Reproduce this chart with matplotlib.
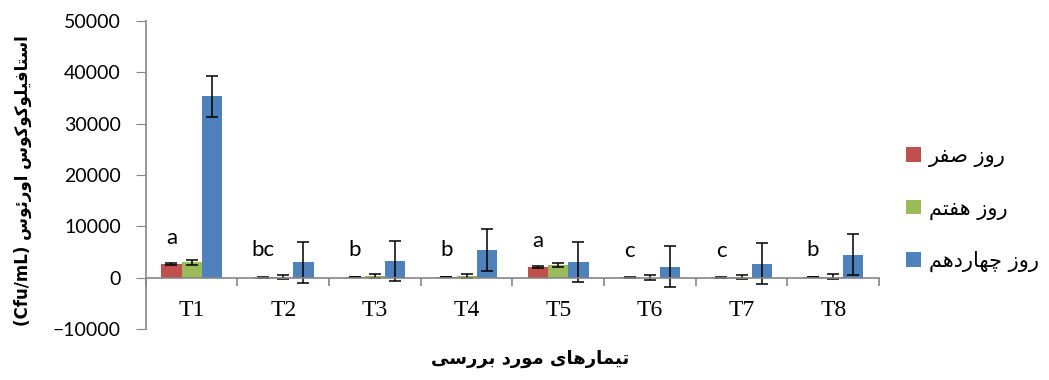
import matplotlib
matplotlib.use('Agg')
import matplotlib.pyplot as plt
import numpy as np

# treatment groups and mean counts (Cfu/mL)
treatments = ['T1', 'T2', 'T3', 'T4', 'T5', 'T6', 'T7', 'T8']
day0 = [2700, 50, 100, 100, 2000, 50, 50, 100]
day7 = [3000, 150, 300, 300, 2500, 0, 100, 200]
day14 = [35300, 3000, 3200, 5400, 3000, 2100, 2700, 4500]
day0_err = [200, 50, 50, 50, 200, 50, 50, 50]
day7_err = [500, 450, 400, 400, 450, 500, 400, 500]
day14_err = [4000, 4000, 3900, 4000, 3900, 4000, 4000, 4000]
letters = ['a', 'bc', 'b', 'b', 'a', 'c', 'c', 'b']
letter_y = [7800, 5300, 5300, 5400, 7100, 5200, 5200, 5300]

series_names = ['روز صفر', 'روز هفتم', 'روز چهاردهم']
x_title = 'تیمارهای مورد بررسی'
y_title = 'استافیلوکوکوس اورئوس'

# Arabic presentation forms: isolated, final, initial, medial
FORMS = {
    'ا': ('\uFE8D', '\uFE8E', None, None),
    'د': ('\uFEA9', '\uFEAA', None, None),
    'ر': ('\uFEAD', '\uFEAE', None, None),
    'ز': ('\uFEAF', '\uFEB0', None, None),
    'و': ('\uFEED', '\uFEEE', None, None),
    'ب': ('\uFE8F', '\uFE90', '\uFE91', '\uFE92'),
    'ت': ('\uFE95', '\uFE96', '\uFE97', '\uFE98'),
    'س': ('\uFEB1', '\uFEB2', '\uFEB3', '\uFEB4'),
    'ص': ('\uFEB9', '\uFEBA', '\uFEBB', '\uFEBC'),
    'ف': ('\uFED1', '\uFED2', '\uFED3', '\uFED4'),
    'ل': ('\uFEDD', '\uFEDE', '\uFEDF', '\uFEE0'),
    'م': ('\uFEE1', '\uFEE2', '\uFEE3', '\uFEE4'),
    'ه': ('\uFEE9', '\uFEEA', '\uFEEB', '\uFEEC'),
    'ئ': ('\uFE89', '\uFE8A', '\uFE8B', '\uFE8C'),
    'ی': ('\uFBFC', '\uFBFD', '\uFBFE', '\uFBFF'),
    'ک': ('\uFB8E', '\uFB8F', '\uFB90', '\uFB91'),
    'چ': ('\uFB7A', '\uFB7B', '\uFB7C', '\uFB7D'),
}


def shape(text):
    out = []
    for i, ch in enumerate(text):
        if ch not in FORMS:
            out.append(ch)
            continue
        iso, fin, ini, med = FORMS[ch]
        prev = text[i - 1] if i > 0 else ''
        nxt = text[i + 1] if i + 1 < len(text) else ''
        join_prev = prev in FORMS and FORMS[prev][2] is not None
        join_next = ini is not None and nxt in FORMS
        if join_prev and join_next:
            out.append(med)
        elif join_prev:
            out.append(fin)
        elif join_next:
            out.append(ini)
        else:
            out.append(iso)
    return ''.join(reversed(out))


colors = ['#C0504D', '#9BBB59', '#4F81BD']
x = np.arange(len(treatments))
w = 0.22

fig = plt.figure(figsize=(10.49, 3.8), dpi=100)
ax = fig.add_axes([0.139, 0.134, 0.699, 0.811])

err_kw = dict(ecolor='black', elinewidth=1.1, capsize=4.3, capthick=1.1)
for i, (vals, errs) in enumerate([(day0, day0_err), (day7, day7_err), (day14, day14_err)]):
    ax.bar(x + (i - 1) * w, vals, w, yerr=errs, color=colors[i],
           label=shape(series_names[i]), error_kw=err_kw, zorder=2)

for xi, lt, ly in zip(x, letters, letter_y):
    ax.text(xi - 0.22, ly, lt, ha='center', va='center',
            fontsize=16, family='Lato')

ax.set_xlim(-0.5, 7.5)
ax.set_ylim(-10000, 50000)
ax.set_yticks(np.arange(-10000, 50001, 10000))
ax.set_xticks(x)
ax.set_xticklabels(treatments)
ax.set_xticks(np.arange(-0.5, 8.0, 1.0), minor=True)

ax.tick_params(axis='y', labelsize=14, direction='out', length=7,
               color='#868686', pad=11, labelfontfamily='Lato')
ax.tick_params(axis='x', which='major', length=0, pad=16, labelsize=17,
               labelfontfamily='Liberation Serif')
ax.tick_params(axis='x', which='minor', length=6, color='#868686', width=1.2)

ax.spines['top'].set_visible(False)
ax.spines['right'].set_visible(False)
ax.spines['bottom'].set_position(('data', 0))
for s in ['left', 'bottom']:
    ax.spines[s].set_color('#868686')
    ax.spines[s].set_linewidth(1.2)

fig.text(0.022, 0.525, '(Cfu/mL) ' + shape(y_title), rotation=90,
         ha='center', va='center', fontsize=12, fontweight='bold',
         family='DejaVu Sans')
fig.text(0.505, 0.055, shape(x_title), ha='center', va='center',
         fontsize=13, fontweight='bold', family='DejaVu Sans')

fig.legend(loc='center left', bbox_to_anchor=(0.846, 0.45), frameon=False,
           handlelength=0.7, handleheight=0.7, handletextpad=0.4,
           labelspacing=1.5, prop={'family': 'DejaVu Sans', 'size': 15})

fig.savefig('out.png', dpi=100)
